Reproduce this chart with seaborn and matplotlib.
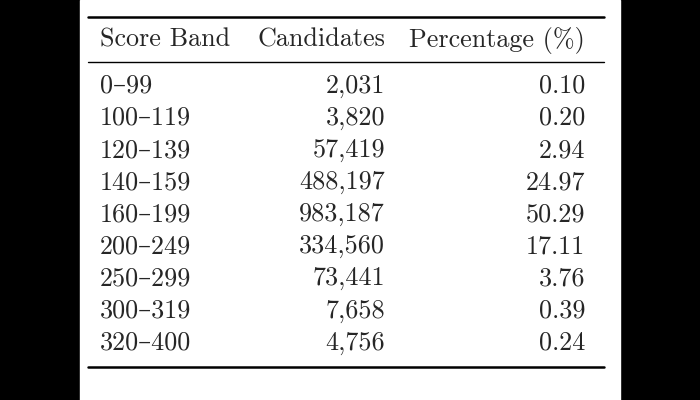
import matplotlib
matplotlib.use("Agg")
import matplotlib.pyplot as plt
import seaborn as sns

bands = ["0–99", "100–119", "120–139", "140–159", "160–199",
         "200–249", "250–299", "300–319", "320–400"]
candidates = [2031, 3820, 57419, 488197, 983187, 334560, 73441, 7658, 4756]
percentages = [0.10, 0.20, 2.94, 24.97, 50.29, 17.11, 3.76, 0.39, 0.24]
headers = ["Score Band", "Candidates", "Percentage (%)"]

sns.set_theme(style="white")
plt.rcParams['font.family'] = ['cmr10', 'DejaVu Serif']
plt.rcParams['axes.formatter.use_mathtext'] = True

fig = plt.figure(figsize=(7, 4), dpi=100, facecolor="black")
ax = fig.add_axes([0, 0, 1, 1])
ax.set_xlim(0, 700)
ax.set_ylim(400, 0)
ax.axis("off")
ax.axvspan(80, 620, color="white", zorder=0)

fs = 18.8
ax.text(100, 40, headers[0], fontsize=fs, va="center", ha="left")
ax.text(385, 40, headers[1], fontsize=fs, va="center", ha="right")
ax.text(585, 40, headers[2], fontsize=fs, va="center", ha="right")

for i, (b, c, p) in enumerate(zip(bands, candidates, percentages)):
    y = 86 + i * 32.1
    ax.text(100, y, b, fontsize=fs, va="center", ha="left")
    ax.text(385, y, f"{c:,}", fontsize=fs, va="center", ha="right")
    ax.text(585, y, f"{p:.2f}", fontsize=fs, va="center", ha="right")

ax.plot([88, 604], [17, 17], color="black", lw=1.8)
ax.plot([88, 604], [62, 62], color="black", lw=1.0)
ax.plot([88, 604], [367, 367], color="black", lw=1.8)

fig.savefig("out.png", dpi=100, facecolor="black")
